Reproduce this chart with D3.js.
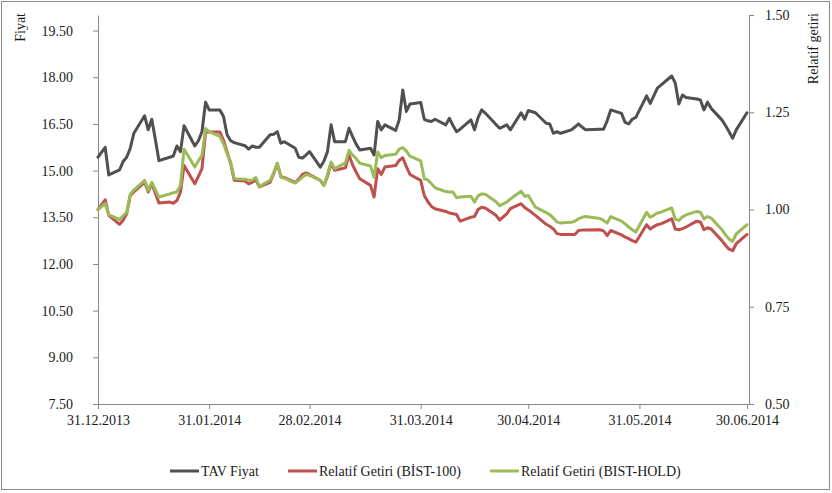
<!DOCTYPE html>
<html lang="tr">
<head>
<meta charset="UTF-8">
<title>TAV Fiyat ve Relatif Getiri</title>
<script src="https://d3js.org/d3.v7.min.js"></script>
<style>
  body { margin: 0; background: #fff; }
  svg text { font-family: "Liberation Serif", "Times New Roman", serif; fill: #1a1a1a; }
  .axis path, .axis line { stroke: #868686; }
</style>
</head>
<body>
<div id="chart"></div>
<script>
// işlem günleri
const dates = [
  "2013-12-31","2014-01-02","2014-01-03","2014-01-06","2014-01-07","2014-01-08","2014-01-09","2014-01-10",
  "2014-01-13","2014-01-14","2014-01-15","2014-01-16","2014-01-17","2014-01-20","2014-01-21","2014-01-22",
  "2014-01-23","2014-01-24","2014-01-27","2014-01-28","2014-01-29","2014-01-30","2014-01-31","2014-02-03",
  "2014-02-04","2014-02-05","2014-02-06","2014-02-07","2014-02-10","2014-02-11","2014-02-12","2014-02-13",
  "2014-02-14","2014-02-17","2014-02-18","2014-02-19","2014-02-20","2014-02-21","2014-02-24","2014-02-25",
  "2014-02-26","2014-02-27","2014-02-28","2014-03-03","2014-03-04","2014-03-05","2014-03-06","2014-03-07",
  "2014-03-10","2014-03-11","2014-03-12","2014-03-13","2014-03-14","2014-03-17","2014-03-18","2014-03-19",
  "2014-03-20","2014-03-21","2014-03-24","2014-03-25","2014-03-26","2014-03-27","2014-03-28","2014-03-31",
  "2014-04-01","2014-04-02","2014-04-03","2014-04-04","2014-04-07","2014-04-08","2014-04-09","2014-04-10",
  "2014-04-11","2014-04-14","2014-04-15","2014-04-16","2014-04-17","2014-04-18","2014-04-21","2014-04-22",
  "2014-04-24","2014-04-25","2014-04-28","2014-04-29","2014-04-30","2014-05-02","2014-05-05","2014-05-06",
  "2014-05-07","2014-05-08","2014-05-09","2014-05-12","2014-05-13","2014-05-14","2014-05-15","2014-05-16",
  "2014-05-20","2014-05-21","2014-05-22","2014-05-23","2014-05-26","2014-05-27","2014-05-28","2014-05-29",
  "2014-05-30","2014-06-02","2014-06-03","2014-06-04","2014-06-05","2014-06-06","2014-06-09","2014-06-10",
  "2014-06-11","2014-06-12","2014-06-13","2014-06-16","2014-06-17","2014-06-18","2014-06-19","2014-06-20",
  "2014-06-23","2014-06-24","2014-06-25","2014-06-26","2014-06-27","2014-06-30"
];

// TAV Fiyat (sol eksen)
const tavPrice = [
  15.43,15.75,14.86,15.02,15.29,15.43,15.72,16.20,
  16.76,16.31,16.65,16.00,15.32,15.43,15.47,15.79,
  15.61,16.44,15.79,15.96,16.25,17.20,16.95,16.95,
  16.74,16.15,15.96,15.90,15.80,15.69,15.79,15.75,
  15.75,16.15,16.17,16.25,15.88,15.93,15.72,15.43,
  15.40,15.50,15.61,15.11,15.30,15.61,16.47,15.93,
  15.93,16.36,16.09,15.85,15.66,15.72,15.50,16.58,
  16.31,16.47,16.29,16.63,17.59,16.90,17.14,17.19,
  16.65,16.60,16.58,16.65,16.47,16.68,16.45,16.25,
  16.33,16.63,16.31,16.70,16.95,16.85,16.48,16.36,
  16.47,16.31,16.86,16.65,16.93,16.86,16.52,16.50,
  16.20,16.25,16.20,16.31,16.40,16.50,16.40,16.31,
  16.33,16.33,16.60,16.95,16.84,16.55,16.50,16.65,
  16.71,17.40,17.16,17.40,17.65,17.75,18.04,17.81,
  17.14,17.43,17.35,17.30,17.27,16.95,17.20,17.00,
  16.63,16.45,16.25,16.04,16.31,16.86
];

// Relatif Getiri (BİST-100) (sağ eksen)
const relBist100 = [
  1.000,1.025,0.985,0.962,0.972,0.989,1.036,1.045,
  1.070,1.045,1.066,1.042,1.017,1.019,1.016,1.023,
  1.045,1.113,1.066,1.085,1.105,1.199,1.199,1.199,
  1.178,1.148,1.118,1.075,1.073,1.066,1.070,1.076,
  1.058,1.070,1.092,1.118,1.085,1.082,1.070,1.078,
  1.090,1.094,1.090,1.075,1.062,1.085,1.119,1.101,
  1.107,1.140,1.115,1.096,1.079,1.062,1.032,1.105,
  1.090,1.109,1.113,1.126,1.133,1.110,1.090,1.075,
  1.036,1.020,1.008,1.002,0.995,0.991,0.989,0.987,
  0.970,0.980,0.982,1.000,1.006,1.004,0.985,0.973,
  0.989,1.002,1.015,1.005,0.999,0.985,0.962,0.957,
  0.950,0.938,0.936,0.936,0.936,0.946,0.947,0.947,
  0.948,0.945,0.933,0.946,0.935,0.929,0.925,0.920,
  0.916,0.961,0.950,0.956,0.961,0.963,0.976,0.950,
  0.948,0.951,0.955,0.970,0.968,0.948,0.953,0.950,
  0.920,0.908,0.898,0.894,0.912,0.936
];

// Relatif Getiri (BIST-HOLD) (sağ eksen)
const relBistHold = [
  1.000,1.015,0.987,0.974,0.984,0.993,1.039,1.050,
  1.075,1.049,1.070,1.051,1.032,1.040,1.043,1.045,
  1.062,1.155,1.109,1.125,1.139,1.208,1.200,1.188,
  1.169,1.143,1.122,1.079,1.078,1.075,1.076,1.082,
  1.059,1.075,1.095,1.119,1.083,1.080,1.068,1.075,
  1.083,1.090,1.088,1.075,1.062,1.090,1.122,1.105,
  1.120,1.152,1.140,1.131,1.119,1.112,1.083,1.148,
  1.133,1.139,1.142,1.155,1.159,1.150,1.137,1.125,
  1.079,1.076,1.066,1.056,1.046,1.045,1.045,1.030,
  1.032,1.034,1.019,1.035,1.040,1.039,1.020,1.010,
  1.019,1.027,1.047,1.034,1.036,1.006,0.992,0.987,
  0.978,0.968,0.965,0.967,0.970,0.976,0.980,0.982,
  0.977,0.972,0.965,0.982,0.970,0.963,0.955,0.948,
  0.942,0.993,0.980,0.985,0.991,0.993,1.004,0.975,
  0.972,0.981,0.986,0.995,0.993,0.976,0.982,0.978,
  0.948,0.935,0.924,0.918,0.937,0.961
];

const dateTicks = ["2013-12-31","2014-01-31","2014-02-28","2014-03-31","2014-04-30","2014-05-31","2014-06-30"];
const leftTicks = [7.5, 9, 10.5, 12, 13.5, 15, 16.5, 18, 19.5];
const rightTicks = [0.5, 0.75, 1, 1.25, 1.5];

const width = 832, height = 493;
const plot = { left: 98, right: 749, top: 15, bottom: 404 };

const parse = d3.timeParse("%Y-%m-%d");
const fmtDate = d3.timeFormat("%d.%m.%Y");

const svg = d3.select("#chart").append("svg")
  .attr("width", width)
  .attr("height", height);

// dış çerçeve
svg.append("rect")
  .attr("x", 1.5).attr("y", 1.5)
  .attr("width", 828).attr("height", 488)
  .attr("fill", "#fff")
  .attr("stroke", "#8c8c8c");

const x = d3.scaleTime()
  .domain([parse("2013-12-31"), parse("2014-06-30")])
  .range([plot.left, 747]);

const yL = d3.scaleLinear().domain([7.5, 20]).range([plot.bottom, plot.top]);
const yR = d3.scaleLinear().domain([0.5, 1.5]).range([plot.bottom, plot.top]);

// sol eksen
const gL = svg.append("g")
  .attr("class", "axis")
  .attr("transform", `translate(${plot.left},0)`)
  .call(d3.axisLeft(yL).tickValues(leftTicks).tickFormat(d3.format(".2f"))
    .tickSize(5).tickSizeOuter(0).tickPadding(20));
gL.selectAll("text").attr("font-size", 14);

// sağ eksen
const gR = svg.append("g")
  .attr("class", "axis")
  .attr("transform", `translate(${plot.right},0)`)
  .call(d3.axisRight(yR).tickValues(rightTicks).tickFormat(d3.format(".2f"))
    .tickSize(5).tickSizeOuter(0).tickPadding(11));
gR.selectAll("text").attr("font-size", 14);

// alt eksen
const gB = svg.append("g")
  .attr("class", "axis")
  .attr("transform", `translate(0,${plot.bottom})`)
  .call(d3.axisBottom(x).tickValues(dateTicks.map(parse)).tickFormat(fmtDate)
    .tickSize(5).tickSizeOuter(0).tickPadding(6));
gB.select(".domain").remove();
gB.selectAll("text").attr("font-size", 14);
svg.append("line")
  .attr("x1", plot.left).attr("x2", plot.right)
  .attr("y1", plot.bottom + 0.5).attr("y2", plot.bottom + 0.5)
  .attr("stroke", "#868686");

// eksen başlıkları
svg.append("text")
  .attr("transform", "translate(25,13) rotate(-90)")
  .attr("text-anchor", "end")
  .attr("font-size", 14)
  .text("Fiyat");
svg.append("text")
  .attr("transform", "translate(818,13) rotate(-90)")
  .attr("text-anchor", "end")
  .attr("font-size", 14)
  .text("Relatif getiri");

const rows = dates.map((d, i) => ({
  date: parse(d), price: tavPrice[i], b100: relBist100[i], hold: relBistHold[i]
}));

const series = [
  { name: "TAV Fiyat", color: "#505050", line: d3.line().x(d => x(d.date)).y(d => yL(d.price)) },
  { name: "Relatif Getiri (BİST-100)", color: "#c0504d", line: d3.line().x(d => x(d.date)).y(d => yR(d.b100)) },
  { name: "Relatif Getiri (BIST-HOLD)", color: "#9bbb59", line: d3.line().x(d => x(d.date)).y(d => yR(d.hold)) }
];

series.forEach(s => {
  svg.append("path")
    .datum(rows)
    .attr("fill", "none")
    .attr("stroke", s.color)
    .attr("stroke-width", 3)
    .attr("stroke-linejoin", "round")
    .attr("stroke-linecap", "round")
    .attr("d", s.line);
});

// lejant
const legendX = [170, 288, 490];
const legend = svg.append("g");
series.forEach((s, i) => {
  legend.append("line")
    .attr("x1", legendX[i]).attr("x2", legendX[i] + 29)
    .attr("y1", 471).attr("y2", 471)
    .attr("stroke", s.color)
    .attr("stroke-width", 3);
  legend.append("text")
    .attr("x", legendX[i] + 31)
    .attr("y", 476)
    .attr("font-size", 14)
    .text(s.name);
});
</script>
</body>
</html>
